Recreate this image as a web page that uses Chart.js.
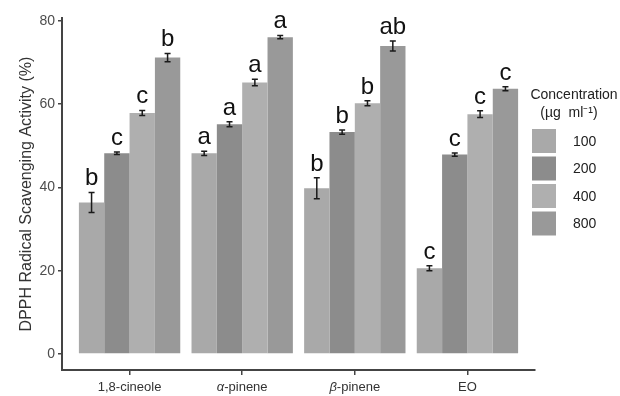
<!DOCTYPE html>
<html>
<head>
<meta charset="utf-8">
<script src="https://cdn.jsdelivr.net/npm/chart.js@4/dist/chart.umd.min.js"></script>
<style>
  html, body { margin: 0; padding: 0; background: #fff; }
  #wrap { width: 620px; height: 396px; }
</style>
</head>
<body>
<div id="wrap"><canvas id="myChart" width="620" height="396"></canvas></div>
<script>
let categories = ['1,8-cineole', 'α-pinene', 'β-pinene', 'EO'];
let concentrations = ['100', '200', '400', '800'];
let values100 = [36.4, 48.2, 39.8, 20.6];
let values200 = [48.2, 55.2, 53.3, 47.9];
let values400 = [57.9, 65.2, 60.2, 57.6];
let values800 = [71.2, 76.1, 74.0, 63.7];
let err100 = [2.4, 0.5, 2.5, 0.6];
let err200 = [0.3, 0.6, 0.5, 0.4];
let err400 = [0.6, 0.8, 0.6, 0.8];
let err800 = [1.0, 0.4, 1.2, 0.5];
let letters100 = ['b', 'a', 'b', 'c'];
let letters200 = ['c', 'a', 'b', 'c'];
let letters400 = ['c', 'a', 'b', 'c'];
let letters800 = ['b', 'a', 'ab', 'c'];
let yTicks = [0, 20, 40, 60, 80];

let colors = ['#a9a9a9', '#8c8c8c', '#afafaf', '#999999'];
let font = '"Liberation Sans", Arial, sans-serif';

// category axis with a bit more room at both ends (like ggplot's 0.6 expansion)
class PaddedCategory extends Chart.CategoryScale {
  buildTicks() {
    let ticks = super.buildTicks();
    this._startValue -= 0.1;
    this._valueRange += 0.2;
    return ticks;
  }
}
PaddedCategory.id = 'paddedCategory';
PaddedCategory.defaults = Chart.CategoryScale.defaults;
Chart.register(PaddedCategory);

let allValues = [values100, values200, values400, values800];
let allErr = [err100, err200, err400, err800];
let allLetters = [letters100, letters200, letters400, letters800];

let datasets = [];
for (let i = 0; i <= concentrations.length - 1; i++) {
  datasets.push({
    label: concentrations[i],
    data: allValues[i],
    errors: allErr[i],
    letters: allLetters[i],
    backgroundColor: colors[i],
    borderWidth: 0,
    categoryPercentage: 0.9,
    barPercentage: 1.0,
  });
}

let errorBars = {
  id: 'errorBars',
  afterDatasetsDraw(chart) {
    let ctx = chart.ctx;
    let y = chart.scales.y;
    ctx.save();
    chart.data.datasets.forEach((ds, di) => {
      let meta = chart.getDatasetMeta(di);
      meta.data.forEach((bar, i) => {
        let v = ds.data[i];
        let e = ds.errors[i];
        let top = y.getPixelForValue(v + e);
        let bottom = y.getPixelForValue(v - e);
        ctx.strokeStyle = '#1a1a1a';
        ctx.lineWidth = 1.5;
        ctx.beginPath();
        ctx.moveTo(bar.x, top);
        ctx.lineTo(bar.x, bottom);
        ctx.moveTo(bar.x - 3, top);
        ctx.lineTo(bar.x + 3, top);
        ctx.moveTo(bar.x - 3, bottom);
        ctx.lineTo(bar.x + 3, bottom);
        ctx.stroke();
        ctx.fillStyle = '#111';
        ctx.font = '24px ' + font;
        ctx.textAlign = 'center';
        ctx.textBaseline = 'alphabetic';
        ctx.fillText(ds.letters[i], bar.x, top - 7);
      });
    });
    ctx.restore();
  }
};

let xLabels = {
  id: 'xLabels',
  afterDraw(chart) {
    let ctx = chart.ctx;
    let x = chart.scales.x;
    ctx.save();
    ctx.fillStyle = '#333';
    ctx.textBaseline = 'middle';
    ctx.textAlign = 'left';
    categories.forEach((label, i) => {
      let cx = x.getPixelForTick(i);
      let first = label.charAt(0);
      let greek = first === 'α' || first === 'β';
      let head = greek ? first : '';
      let rest = greek ? label.slice(1) : label;
      ctx.font = 'italic 13px ' + font;
      let w1 = ctx.measureText(head).width;
      ctx.font = '13px ' + font;
      let w2 = ctx.measureText(rest).width;
      let start = cx - (w1 + w2) / 2;
      ctx.font = 'italic 13px ' + font;
      ctx.fillText(head, start, 387);
      ctx.font = '13px ' + font;
      ctx.fillText(rest, start + w1, 387);
    });
    ctx.restore();
  }
};

let sideLegend = {
  id: 'sideLegend',
  afterDraw(chart) {
    let ctx = chart.ctx;
    ctx.save();
    ctx.fillStyle = '#222';
    ctx.font = '14px ' + font;
    ctx.textAlign = 'center';
    ctx.textBaseline = 'middle';
    ctx.fillText('Concentration', 574, 95);
    ctx.fillText('(µg  ml⁻¹)', 569, 113);
    ctx.textAlign = 'left';
    chart.data.datasets.forEach((ds, i) => {
      let top = 129 + i * 27.5;
      ctx.fillStyle = ds.backgroundColor;
      ctx.fillRect(532, top, 24, 24);
      ctx.fillStyle = '#222';
      ctx.fillText(ds.label, 573, top + 13);
    });
    ctx.restore();
  }
};

let ctx = document.getElementById('myChart').getContext('2d');
let myChart = new Chart(ctx, {
  type: 'bar',
  data: {
    labels: categories,
    datasets: datasets,
  },
  options: {
    responsive: false,
    animation: false,
    layout: {
      padding: { top: 18, right: 85, bottom: 0, left: 0 },
    },
    plugins: {
      legend: { display: false },
      tooltip: { enabled: false },
    },
    scales: {
      x: {
        type: 'paddedCategory',
        offset: true,
        grid: {
          display: true,
          drawOnChartArea: false,
          offset: false,
          tickLength: 5,
          color: '#444',
          lineWidth: 1.5,
        },
        border: { display: true, color: '#444', width: 2 },
        ticks: { display: false },
        afterFit: function(scale) {
          scale.height = 26;
        },
      },
      y: {
        min: -3.85,
        max: 80.7,
        afterBuildTicks: function(scale) {
          scale.ticks = yTicks.map(v => ({ value: v }));
        },
        grid: {
          display: true,
          drawOnChartArea: false,
          tickLength: 4,
          color: '#444',
          lineWidth: 1.5,
        },
        border: { display: true, color: '#444', width: 2 },
        ticks: {
          color: '#4d4d4d',
          padding: 3,
          font: { family: font, size: 14 },
        },
        title: {
          display: true,
          text: 'DPPH Radical Scavenging Activity (%)',
          color: '#333',
          font: { family: font, size: 16 },
          padding: { top: 17, bottom: 0 },
        },
        afterFit: function(scale) {
          scale.width = 62;
        },
      },
    },
  },
  plugins: [errorBars, xLabels, sideLegend],
});
</script>
</body>
</html>
